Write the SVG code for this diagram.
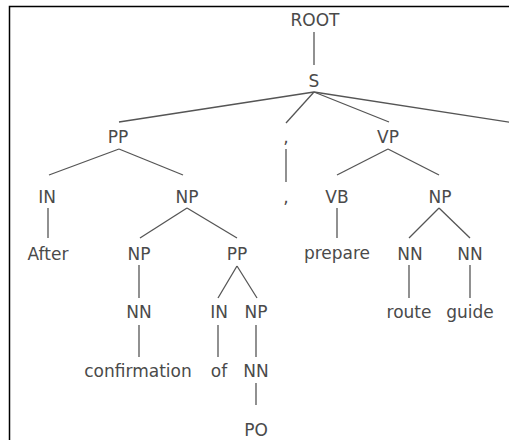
<svg xmlns="http://www.w3.org/2000/svg" width="509" height="440" viewBox="0 0 509 440">
<style>
text{font-family:"DejaVu Sans","Liberation Sans",sans-serif;font-size:17px;fill:#4a4a4a;text-anchor:middle}
.e line{stroke:#555;stroke-width:1.3}
</style>
<rect x="0" y="0" width="509" height="440" fill="#fff"/>
<path d="M9.5 440V6.5H509" fill="none" stroke="#000" stroke-width="1.5"/>
<g class="e" id="connectors">
<line x1="314" y1="32" x2="314" y2="65"/>
<line x1="314" y1="92" x2="119" y2="122"/>
<line x1="314" y1="92" x2="286" y2="123"/>
<line x1="314" y1="92" x2="389" y2="122"/>
<line x1="314" y1="92" x2="580" y2="133"/>
<line x1="119" y1="149" x2="49" y2="175"/>
<line x1="119" y1="149" x2="183" y2="175"/>
<line x1="286" y1="149" x2="286" y2="182"/>
<line x1="388" y1="149" x2="337" y2="175"/>
<line x1="388" y1="149" x2="439" y2="175"/>
<line x1="48" y1="208" x2="48" y2="238"/>
<line x1="187" y1="208" x2="140" y2="238"/>
<line x1="187" y1="208" x2="237" y2="238"/>
<line x1="337" y1="208" x2="337" y2="238"/>
<line x1="439" y1="208" x2="409" y2="238"/>
<line x1="439" y1="208" x2="470" y2="238"/>
<line x1="139" y1="265" x2="139" y2="298"/>
<line x1="237" y1="266" x2="218" y2="298"/>
<line x1="237" y1="266" x2="257" y2="298"/>
<line x1="409" y1="265" x2="409" y2="298"/>
<line x1="470" y1="265" x2="470" y2="298"/>
<line x1="139" y1="325" x2="139" y2="357"/>
<line x1="218" y1="325" x2="218" y2="357"/>
<line x1="256" y1="325" x2="256" y2="357"/>
<line x1="256" y1="383" x2="256" y2="405"/>
</g>
<g id="n-root"><text x="315" y="26">ROOT</text></g>
<g id="n-s"><text x="314" y="87">S</text></g>
<g id="n-pp1"><text x="118" y="143">PP</text></g>
<g id="n-comma1"><text x="286" y="143">,</text></g>
<g id="n-vp"><text x="388" y="143">VP</text></g>
<g id="n-in1"><text x="47" y="203">IN</text></g>
<g id="n-np1"><text x="187" y="203">NP</text></g>
<g id="n-comma2"><text x="286" y="203">,</text></g>
<g id="n-vb"><text x="337" y="203">VB</text></g>
<g id="n-np2"><text x="440" y="203">NP</text></g>
<g id="n-after"><text x="48" y="260">After</text></g>
<g id="n-np3"><text x="139" y="260">NP</text></g>
<g id="n-pp2"><text x="237" y="260">PP</text></g>
<g id="n-prepare"><text x="337" y="259">prepare</text></g>
<g id="n-nn1"><text x="410" y="260">NN</text></g>
<g id="n-nn2"><text x="470" y="260">NN</text></g>
<g id="n-nn3"><text x="139" y="318">NN</text></g>
<g id="n-in2"><text x="219" y="318">IN</text></g>
<g id="n-np4"><text x="256" y="318">NP</text></g>
<g id="n-route"><text x="409" y="318">route</text></g>
<g id="n-guide"><text x="470" y="318">guide</text></g>
<g id="n-confirmation"><text x="138" y="377">confirmation</text></g>
<g id="n-of"><text x="219" y="377">of</text></g>
<g id="n-nn4"><text x="256" y="377">NN</text></g>
<g id="n-po"><text x="256" y="436">PO</text></g>
</svg>
